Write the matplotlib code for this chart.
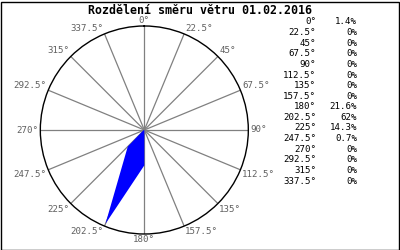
import numpy as np
import matplotlib
matplotlib.use('Agg')
import matplotlib.pyplot as plt
from matplotlib.patches import Rectangle

# smery vetru (stupne) a jejich podil v %
directions = [0, 22.5, 45, 67.5, 90, 112.5, 135, 157.5,
              180, 202.5, 225, 247.5, 270, 292.5, 315, 337.5]
shares = [1.4, 0, 0, 0, 0, 0, 0, 0,
          21.6, 62, 14.3, 0.7, 0, 0, 0, 0]
title = 'Rozdělení směru větru 01.02.2016'

rmax = 63.5
mono = 'DejaVu Sans Mono'

fig = plt.figure(figsize=(4, 2.5), dpi=100)
fig.patch.set_facecolor('white')

# polarni osy: stred (144, 130) px, polomer 104 px
ax = fig.add_axes([0.1008, 0.064, 0.52, 0.832], projection='polar')
ax.set_theta_zero_location('N')
ax.set_theta_direction(-1)
ax.set_ylim(0, rmax)
ax.set_yticks([])
ax.set_xticks(np.radians(directions))
ax.set_xticklabels([])
ax.tick_params(axis='x', length=0)
ax.grid(True, color='#808080', linewidth=0.9)
ax.spines['polar'].set_color('black')
ax.spines['polar'].set_linewidth(1.0)

theta = np.radians(directions + [directions[0]])
r = shares + [shares[0]]
ax.fill(theta, r, color='#0000ff', linewidth=0, zorder=3)

# popisky uhlu kolem kruhu
for d in directions:
    s = np.sin(np.radians(d))
    c = np.cos(np.radians(d))
    ha = 'center' if abs(s) < 1e-6 else ('left' if s > 0 else 'right')
    va = 'center' if abs(c) < 1e-6 else ('bottom' if c > 0 else 'top')
    ax.annotate(f'{d:g}°', xy=(np.radians(d), rmax), xytext=(1.5 * s, 1.0 * c),
                textcoords='offset points', ha=ha, va=va,
                fontsize=6.6, family=mono, color='#606060',
                annotation_clip=False)

# titulek
fig.text(0.5, 1 - 10.5 / 250, title, ha='center', va='center',
         fontsize=8.4, family=mono, fontweight='bold')

# tabulka vpravo
for i, (d, v) in enumerate(zip(directions, shares)):
    y = 1 - (22 + i * 10.6) / 250
    fig.text(316 / 400, y, f'{d:g}°', ha='right', va='center',
             fontsize=6.6, family=mono)
    fig.text(357 / 400, y, f'{v:g}%', ha='right', va='center',
             fontsize=6.6, family=mono)

# ramecek
fig.add_artist(Rectangle((0.5 / 400, 0.5 / 250), 398.5 / 400, 248 / 250,
                         transform=fig.transFigure, fill=False,
                         edgecolor='black', linewidth=1.0))

fig.savefig('out.png', dpi=100)
